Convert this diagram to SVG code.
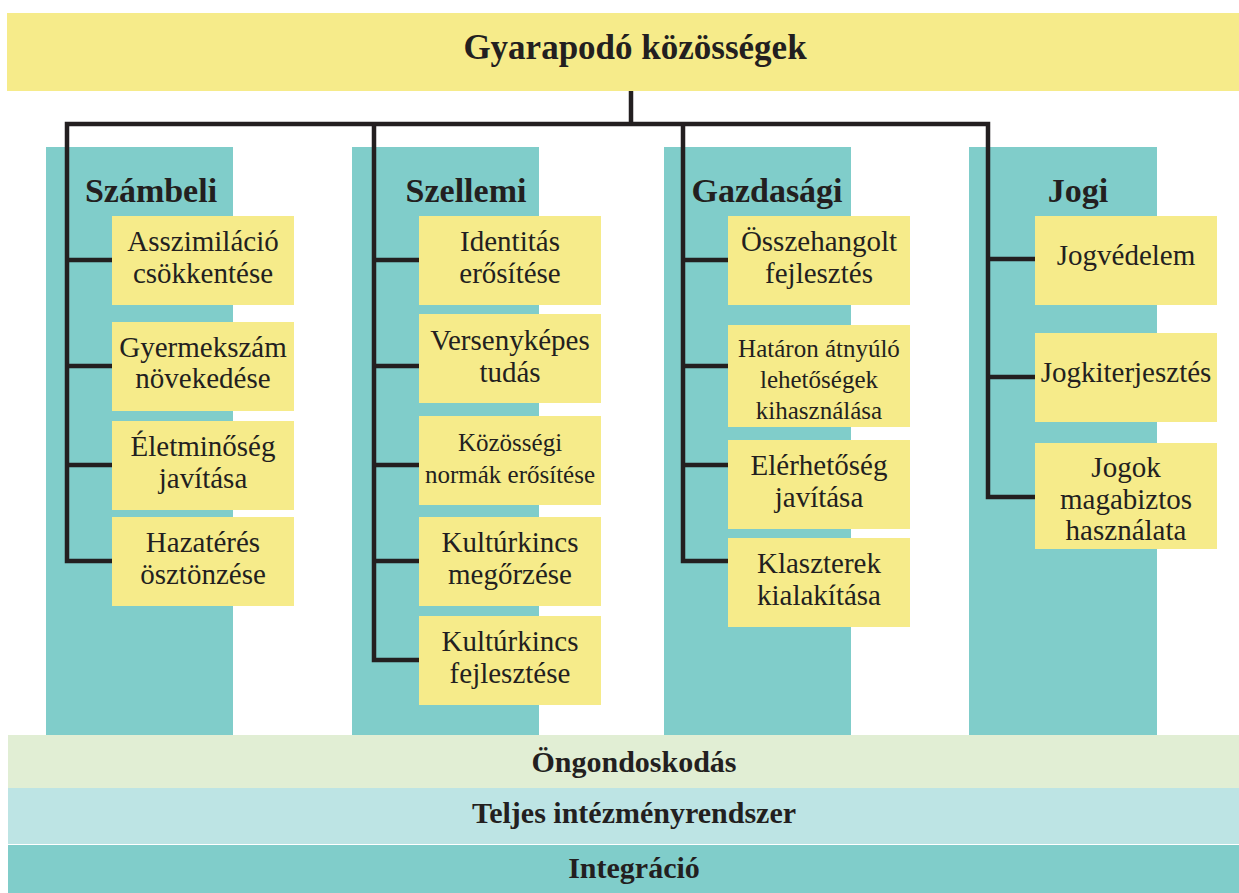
<svg xmlns="http://www.w3.org/2000/svg" width="1239" height="893" viewBox="0 0 1239 893">
<style>
.teal{fill:#80cdca}
.box{fill:#f6eb8a}
.t{font-family:"Liberation Serif","Times New Roman",serif;font-size:29px;fill:#231f20;text-anchor:middle}
.s{font-size:25px}
.h{font-family:"Liberation Serif","Times New Roman",serif;font-size:34px;font-weight:bold;fill:#231f20;text-anchor:middle}
.b{font-family:"Liberation Serif","Times New Roman",serif;font-size:30px;font-weight:bold;fill:#231f20;text-anchor:middle}
.ln{fill:none;stroke:#231f20;stroke-width:4.5;stroke-linejoin:miter}
</style>
<rect width="1239" height="893" fill="#ffffff"/>
<g id="title">
<rect x="7" y="13" width="1232" height="78" class="box"/>
<text x="635" y="59" class="h" style="font-size:35px">Gyarapodó közösségek</text>
</g>
<g id="columns">
<rect x="46" y="147" width="187" height="588" class="teal"/>
<rect x="352" y="147" width="187" height="588" class="teal"/>
<rect x="664" y="147" width="187" height="588" class="teal"/>
<rect x="969" y="147" width="188" height="588" class="teal"/>
</g>
<g id="connectors">
<path class="ln" d="M631,91 V124"/>
<path class="ln" d="M112,561 H67 V124 H988 V497 H1035"/>
<path class="ln" d="M374,124 V660 H419"/>
<path class="ln" d="M683,124 V561 H728"/>
<path class="ln" d="M67,260 H112 M67,366 H112 M67,465 H112"/>
<path class="ln" d="M374,260 H419 M374,366 H419 M374,465 H419 M374,561 H419"/>
<path class="ln" d="M683,260 H728 M683,366 H728 M683,465 H728"/>
<path class="ln" d="M988,259 H1035 M988,377 H1035"/>
</g>
<g id="head-szambeli"><text x="151" y="202" class="h">Számbeli</text></g>
<g id="head-szellemi"><text x="466" y="202" class="h">Szellemi</text></g>
<g id="head-gazdasagi"><text x="767" y="202" class="h">Gazdasági</text></g>
<g id="head-jogi"><text x="1078" y="202" class="h">Jogi</text></g>

<g id="n-asszimilacio"><rect x="112" y="216" width="182" height="89" class="box"/><text x="203" y="251" class="t">Asszimiláció</text><text x="203" y="283" class="t">csökkentése</text></g>
<g id="n-gyermekszam"><rect x="112" y="322" width="182" height="89" class="box"/><text x="203" y="357" class="t">Gyermekszám</text><text x="203" y="388" class="t">növekedése</text></g>
<g id="n-eletminoseg"><rect x="112" y="421" width="182" height="89" class="box"/><text x="203" y="456" class="t">Életminőség</text><text x="203" y="488" class="t">javítása</text></g>
<g id="n-hazateres"><rect x="112" y="517" width="182" height="89" class="box"/><text x="203" y="552" class="t">Hazatérés</text><text x="203" y="584" class="t">ösztönzése</text></g>

<g id="n-identitas"><rect x="419" y="216" width="182" height="89" class="box"/><text x="510" y="251" class="t">Identitás</text><text x="510" y="283" class="t">erősítése</text></g>
<g id="n-versenykepes"><rect x="419" y="314" width="182" height="89" class="box"/><text x="510" y="350" class="t">Versenyképes</text><text x="510" y="382" class="t">tudás</text></g>
<g id="n-kozossegi"><rect x="419" y="416" width="182" height="89" class="box"/><text x="510" y="451" class="t s">Közösségi</text><text x="510" y="483" class="t s">normák erősítése</text></g>
<g id="n-megorzese"><rect x="419" y="517" width="182" height="89" class="box"/><text x="510" y="552" class="t">Kultúrkincs</text><text x="510" y="584" class="t">megőrzése</text></g>
<g id="n-fejlesztese"><rect x="419" y="616" width="182" height="89" class="box"/><text x="510" y="651" class="t">Kultúrkincs</text><text x="510" y="683" class="t">fejlesztése</text></g>

<g id="n-osszehangolt"><rect x="728" y="216" width="182" height="89" class="box"/><text x="819" y="251" class="t">Összehangolt</text><text x="819" y="283" class="t">fejlesztés</text></g>
<g id="n-hataron"><rect x="728" y="325" width="182" height="102" class="box"/><text x="819" y="357" class="t s">Határon átnyúló</text><text x="819" y="388" class="t s">lehetőségek</text><text x="819" y="419" class="t s">kihasználása</text></g>
<g id="n-elerhetoseg"><rect x="728" y="440" width="182" height="89" class="box"/><text x="819" y="475" class="t">Elérhetőség</text><text x="819" y="507" class="t">javítása</text></g>
<g id="n-klaszterek"><rect x="728" y="538" width="182" height="89" class="box"/><text x="819" y="573" class="t">Klaszterek</text><text x="819" y="605" class="t">kialakítása</text></g>

<g id="n-jogvedelem"><rect x="1035" y="216" width="182" height="89" class="box"/><text x="1126" y="265" class="t">Jogvédelem</text></g>
<g id="n-jogkiterjesztes"><rect x="1035" y="333" width="182" height="89" class="box"/><text x="1126" y="382" class="t">Jogkiterjesztés</text></g>
<g id="n-jogok"><rect x="1035" y="443" width="182" height="106" class="box"/><text x="1126" y="477" class="t">Jogok</text><text x="1126" y="509" class="t">magabiztos</text><text x="1126" y="540" class="t">használata</text></g>

<g id="bar-ongondoskodas"><rect x="8" y="735" width="1231" height="53" fill="#e1eed4"/><text x="634" y="772" class="b">Öngondoskodás</text></g>
<g id="bar-teljes"><rect x="8" y="788" width="1231" height="56" fill="#bde4e4"/><text x="634" y="823" class="b">Teljes intézményrendszer</text></g>
<g id="bar-integracio"><rect x="8" y="845" width="1231" height="48" fill="#80cdca"/><text x="634" y="878" class="b">Integráció</text></g>
</svg>
